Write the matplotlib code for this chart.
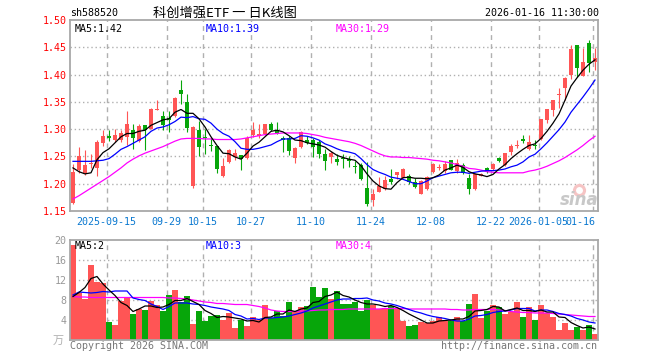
import matplotlib
matplotlib.use("Agg")
import matplotlib.pyplot as plt
import numpy as np

# ---- data (88 trading days, 2025-09-05 .. 2026-01-16) ----
opens = [1.165, 1.225, 1.219, 1.236, 1.228, 1.275, 1.287, 1.280, 1.280, 1.286,
         1.298, 1.279, 1.308, 1.301, 1.335, 1.324, 1.320, 1.324, 1.372, 1.350,
         1.196, 1.298, 1.286, 1.2705, 1.269, 1.215, 1.240, 1.249, 1.252, 1.248,
         1.290, 1.287, 1.292, 1.309, 1.298, 1.284, 1.284, 1.248, 1.268, 1.281,
         1.281, 1.276, 1.254, 1.249, 1.246, 1.248, 1.246, 1.2315, 1.234, 1.193,
         1.171, 1.185, 1.190, 1.209, 1.216, 1.211, 1.214, 1.204, 1.182, 1.190,
         1.221, 1.229, 1.223, 1.243, 1.223, 1.235, 1.211, 1.191, 1.215, 1.229,
         1.227, 1.248, 1.234, 1.258, 1.270, 1.282, 1.263, 1.2695, 1.282, 1.317,
         1.335, 1.362, 1.376, 1.400, 1.454, 1.398, 1.458, 1.423]
highs = [1.237, 1.267, 1.262, 1.254, 1.281, 1.298, 1.298, 1.300, 1.299, 1.334,
         1.309, 1.309, 1.308, 1.338, 1.353, 1.334, 1.334, 1.358, 1.390, 1.364,
         1.305, 1.315, 1.300, 1.284, 1.270, 1.248, 1.263, 1.264, 1.252, 1.287,
         1.313, 1.309, 1.309, 1.313, 1.313, 1.287, 1.287, 1.268, 1.296, 1.287,
         1.284, 1.280, 1.263, 1.260, 1.254, 1.254, 1.251, 1.242, 1.238, 1.240,
         1.191, 1.213, 1.214, 1.227, 1.221, 1.229, 1.217, 1.211, 1.206, 1.215,
         1.238, 1.237, 1.242, 1.243, 1.245, 1.238, 1.217, 1.220, 1.220, 1.231,
         1.238, 1.249, 1.257, 1.272, 1.280, 1.290, 1.290, 1.280, 1.319, 1.337,
         1.354, 1.375, 1.395, 1.455, 1.454, 1.449, 1.464, 1.449]
lows = [1.162, 1.219, 1.216, 1.228, 1.214, 1.269, 1.278, 1.276, 1.277, 1.271,
        1.263, 1.276, 1.262, 1.300, 1.335, 1.298, 1.295, 1.322, 1.346, 1.294,
        1.193, 1.251, 1.255, 1.260, 1.219, 1.213, 1.238, 1.243, 1.226, 1.246,
        1.286, 1.284, 1.290, 1.296, 1.292, 1.258, 1.252, 1.238, 1.266, 1.272,
        1.249, 1.248, 1.225, 1.238, 1.235, 1.229, 1.231, 1.220, 1.207, 1.159,
        1.160, 1.184, 1.188, 1.200, 1.209, 1.210, 1.199, 1.192, 1.181, 1.188,
        1.219, 1.226, 1.220, 1.225, 1.220, 1.217, 1.182, 1.188, 1.214, 1.220,
        1.225, 1.240, 1.232, 1.252, 1.266, 1.274, 1.262, 1.264, 1.281, 1.312,
        1.324, 1.339, 1.354, 1.392, 1.396, 1.397, 1.404, 1.409]
closes = [1.222, 1.250, 1.234, 1.238, 1.277, 1.287, 1.283, 1.289, 1.293, 1.310,
          1.283, 1.305, 1.298, 1.337, 1.337, 1.308, 1.316, 1.357, 1.364, 1.302,
          1.304, 1.268, 1.284, 1.270, 1.227, 1.232, 1.261, 1.257, 1.246, 1.284,
          1.299, 1.292, 1.309, 1.298, 1.293, 1.281, 1.260, 1.266, 1.295, 1.275,
          1.268, 1.254, 1.242, 1.257, 1.240, 1.245, 1.242, 1.231, 1.209, 1.162,
          1.182, 1.196, 1.206, 1.203, 1.221, 1.227, 1.204, 1.194, 1.205, 1.213,
          1.237, 1.231, 1.237, 1.226, 1.238, 1.220, 1.190, 1.217, 1.217, 1.223,
          1.237, 1.242, 1.256, 1.270, 1.271, 1.278, 1.277, 1.269, 1.318, 1.336,
          1.354, 1.363, 1.394, 1.447, 1.412, 1.423, 1.421, 1.431]

ma5 = [1.229, 1.222, 1.218, 1.220, 1.244, 1.257, 1.264, 1.275, 1.286, 1.292,
       1.292, 1.296, 1.298, 1.307, 1.312, 1.317, 1.319, 1.331, 1.336, 1.329,
       1.329, 1.319, 1.304, 1.286, 1.270, 1.256, 1.255, 1.249, 1.245, 1.256,
       1.269, 1.276, 1.286, 1.296, 1.298, 1.295, 1.288, 1.280, 1.279, 1.275,
       1.273, 1.271, 1.267, 1.259, 1.252, 1.248, 1.245, 1.243, 1.233, 1.218,
       1.205, 1.196, 1.191, 1.190, 1.202, 1.211, 1.212, 1.210, 1.210, 1.209,
       1.211, 1.216, 1.225, 1.229, 1.234, 1.230, 1.222, 1.218, 1.216, 1.213,
       1.217, 1.227, 1.235, 1.246, 1.255, 1.263, 1.270, 1.273, 1.283, 1.296,
       1.311, 1.328, 1.353, 1.379, 1.394, 1.408, 1.419, 1.427]
ma10 = [1.241, 1.241, 1.241, 1.241, 1.242, 1.243, 1.246, 1.254, 1.263, 1.268,
        1.274, 1.280, 1.286, 1.296, 1.302, 1.304, 1.308, 1.314, 1.322, 1.321,
        1.323, 1.319, 1.318, 1.311, 1.300, 1.292, 1.287, 1.277, 1.265, 1.263,
        1.263, 1.265, 1.268, 1.271, 1.277, 1.282, 1.282, 1.283, 1.288, 1.287,
        1.284, 1.280, 1.273, 1.269, 1.264, 1.260, 1.258, 1.255, 1.246, 1.235,
        1.226, 1.221, 1.217, 1.212, 1.210, 1.208, 1.204, 1.200, 1.200, 1.205,
        1.211, 1.214, 1.217, 1.220, 1.221, 1.221, 1.219, 1.221, 1.223, 1.224,
        1.224, 1.225, 1.227, 1.231, 1.234, 1.240, 1.249, 1.254, 1.264, 1.275,
        1.287, 1.299, 1.313, 1.331, 1.345, 1.359, 1.374, 1.390]
ma30 = [1.172, 1.178, 1.185, 1.192, 1.199, 1.206, 1.213, 1.221, 1.229, 1.238,
        1.245, 1.251, 1.256, 1.260, 1.264, 1.268, 1.273, 1.278, 1.282, 1.283,
        1.283, 1.283, 1.282, 1.282, 1.281, 1.281, 1.281, 1.281, 1.282, 1.284,
        1.286, 1.288, 1.290, 1.291, 1.292, 1.293, 1.293, 1.293, 1.293, 1.292,
        1.290, 1.288, 1.285, 1.283, 1.281, 1.279, 1.277, 1.274, 1.270, 1.265,
        1.260, 1.255, 1.251, 1.249, 1.249, 1.248, 1.248, 1.247, 1.246, 1.245,
        1.243, 1.242, 1.240, 1.238, 1.235, 1.232, 1.228, 1.227, 1.225, 1.222,
        1.221, 1.220, 1.220, 1.220, 1.220, 1.220, 1.223, 1.225, 1.228, 1.232,
        1.237, 1.242, 1.248, 1.255, 1.262, 1.270, 1.279, 1.287]

# volume in 10k (万)
volume = [19.0, 9.5, 8.3, 15.0, 11.6, 11.4, 3.7, 3.0, 7.9, 8.5,
          5.3, 6.3, 6.0, 7.9, 7.0, 5.8, 9.0, 10.0, 7.7, 8.8,
          3.2, 5.8, 3.9, 4.8, 5.0, 4.0, 5.5, 2.5, 4.0, 2.9,
          4.7, 4.0, 7.0, 4.5, 5.8, 4.8, 7.7, 5.8, 6.7, 6.8,
          10.7, 8.6, 10.5, 8.2, 9.8, 7.2, 7.2, 7.6, 5.9, 8.0,
          7.1, 6.2, 6.4, 6.8, 6.2, 3.9, 2.9, 3.1, 3.7, 3.5,
          3.9, 4.6, 3.9, 3.9, 4.6, 3.9, 7.2, 9.2, 4.4, 5.8,
          7.1, 6.6, 5.2, 5.6, 7.6, 4.6, 6.6, 4.0, 7.1, 5.5,
          4.6, 2.0, 3.5, 2.0, 2.6, 2.0, 3.0, 1.3]
vma5 = [8.7, 9.5, 10.5, 12.3, 12.7, 11.2, 10.0, 8.9, 7.5, 6.9,
        5.7, 6.2, 6.8, 6.8, 6.5, 6.6, 7.1, 7.9, 7.9, 8.3,
        7.7, 7.1, 5.9, 5.3, 4.5, 4.7, 4.6, 4.4, 4.2, 3.8,
        3.9, 3.6, 4.5, 4.6, 5.2, 5.2, 6.0, 5.7, 6.2, 6.4,
        7.5, 7.7, 8.7, 9.0, 9.6, 8.9, 8.6, 8.0, 7.5, 7.2,
        7.2, 7.0, 6.7, 6.9, 6.5, 5.9, 5.2, 4.6, 4.0, 3.4,
        3.4, 3.8, 3.9, 4.0, 4.2, 4.2, 4.7, 5.8, 5.9, 6.1,
        6.7, 6.6, 5.8, 6.1, 6.4, 5.9, 5.9, 5.7, 6.0, 5.6,
        5.6, 4.6, 4.5, 3.5, 2.9, 2.4, 2.6, 2.2]
vma10 = [9.0, 9.6, 9.5, 9.4, 9.5, 9.7, 9.6, 9.8, 9.8, 9.8,
         8.4, 8.1, 7.9, 7.2, 6.7, 6.1, 6.7, 7.4, 7.4, 7.4,
         7.2, 7.1, 6.9, 6.6, 6.4, 6.2, 5.9, 5.1, 4.8, 4.2,
         4.3, 4.1, 4.4, 4.4, 4.5, 4.6, 4.8, 5.1, 5.4, 5.8,
         6.4, 6.8, 7.2, 7.6, 8.0, 8.2, 8.2, 8.3, 8.3, 8.4,
         8.0, 7.8, 7.4, 7.2, 6.9, 6.5, 6.1, 5.7, 5.4, 5.0,
         4.7, 4.5, 4.3, 4.0, 3.8, 3.8, 4.2, 4.8, 4.9, 5.1,
         5.5, 5.7, 5.8, 6.0, 6.3, 6.3, 6.3, 5.8, 6.0, 6.0,
         5.7, 5.3, 5.1, 4.8, 4.3, 4.0, 3.6, 3.4]
vma30 = [8.7, 8.6, 8.6, 8.5, 8.5, 8.5, 8.5, 8.5, 8.5, 8.5,
         8.5, 8.5, 8.5, 8.5, 8.5, 8.5, 8.4, 8.4, 8.3, 8.2,
         8.0, 7.8, 7.6, 7.5, 7.3, 7.3, 7.2, 7.1, 7.1, 7.1,
         6.9, 6.7, 6.4, 6.0, 5.8, 5.7, 5.7, 5.7, 5.8, 5.8,
         5.9, 6.0, 6.0, 6.1, 6.1, 6.1, 6.2, 6.2, 6.2, 6.2,
         6.2, 6.2, 6.3, 6.3, 6.3, 6.3, 6.2, 6.2, 6.2, 6.2,
         6.2, 6.2, 6.2, 6.1, 6.1, 6.0, 6.0, 6.1, 6.1, 6.1,
         6.1, 6.0, 5.9, 5.7, 5.6, 5.5, 5.5, 5.4, 5.4, 5.4,
         5.3, 5.2, 5.1, 5.0, 4.9, 4.8, 4.7, 4.7]

tick_idx = [6, 16, 22, 30, 40, 50, 60, 70, 78, 87]
tick_labels = ["2025-09-15", "09-29", "10-15", "10-27", "11-10", "11-24",
               "12-08", "12-22", "2026-01-05", "01-16"]
price_levels = [1.15, 1.20, 1.25, 1.30, 1.35, 1.40, 1.45, 1.50]
vol_levels = [4, 8, 12, 16, 20]

RED = "#ff5555"
GREEN = "#07a60a"
FRAME = "#a8a8a8"
GRID = "#b0b0b0"
XLAB = "#0a78d0"
MONO = "DejaVu Sans Mono"
CJK = ["Noto Sans CJK SC", "DejaVu Sans"]

W, H = 660, 360
fig = plt.figure(figsize=(W / 100, H / 100), dpi=100)
fig.patch.set_facecolor("white")


def px_axes(x0, y0, x1, y1):
    return fig.add_axes([x0 / W, 1 - y1 / H, (x1 - x0) / W, (y1 - y0) / H])


ax1 = px_axes(70, 20, 598, 211)
ax2 = px_axes(70, 240, 598, 340)
n = len(closes)
x = np.arange(n)
grid_x = np.array(tick_idx) - 0.4

for ax in (ax1, ax2):
    ax.set_xlim(-0.5, n - 0.5)
    for s in ax.spines.values():
        s.set_color(FRAME)
        s.set_linewidth(1.3)
    ax.tick_params(length=0)
    for gx in grid_x:
        ax.axvline(gx, color=GRID, lw=1.0, dashes=(3.5, 3), zorder=0)

# ---- price panel ----
ax1.set_ylim(1.15, 1.50)
for lv in price_levels[1:-1]:
    ax1.axhline(lv, color=GRID, lw=1.0, linestyle=(0, (1, 2)), zorder=0)

colors = [RED if c >= o else GREEN for o, c in zip(opens, closes)]
o = np.array(opens)
c = np.array(closes)
body_lo = np.minimum(o, c)
body_h = np.maximum(np.abs(c - o), 0.0018)

# sina watermark (behind the candles)
ax1.scatter([84.3], [1.188], s=90, color="#f6c4c4", zorder=1, linewidths=0)
ax1.scatter([84.3], [1.188], s=25, color="white", zorder=1, linewidths=0)
ax1.text(84.3, 1.170, "sina", color="#c8c8c8", fontsize=12,
         fontweight="bold", style="italic", ha="center", va="center",
         zorder=1)

ax1.vlines(x, lows, highs, colors=colors, lw=0.8, zorder=2)
ax1.bar(x, body_h, bottom=body_lo, width=0.7, color=colors, zorder=3)

ax1.plot(x, ma30, color="#ff00ff", lw=0.9, zorder=4)
ax1.plot(x, ma10, color="#0000ff", lw=0.9, zorder=4)
ax1.plot(x, ma5, color="black", lw=0.9, zorder=4)

ax1.set_yticks(price_levels)
ax1.set_yticklabels([f"{v:.2f}" for v in price_levels], color="red",
                    fontsize=7.2, family=MONO)
ax1.tick_params(axis="y", pad=2.5)
ax1.set_xticks(grid_x)
ax1.set_xticklabels([])
for i, lab in zip(tick_idx, tick_labels):
    if i == n - 1:
        ax1.text(n - 1.0, 1.15 - 0.020, lab, ha="right", va="center",
                 color=XLAB, fontsize=7.2, family=MONO, clip_on=False)
    else:
        ax1.text(i - 0.4, 1.15 - 0.020, lab, ha="center", va="center",
                 color=XLAB, fontsize=7.2, family=MONO, clip_on=False)

ax1.text(0.009, 0.955, "MA5:1.42", transform=ax1.transAxes, color="black",
         fontsize=7.2, family=MONO, va="center")
ax1.text(0.257, 0.955, "MA10:1.39", transform=ax1.transAxes, color="#0000ff",
         fontsize=7.2, family=MONO, va="center")
ax1.text(0.504, 0.955, "MA30:1.29", transform=ax1.transAxes, color="#ff00ff",
         fontsize=7.2, family=MONO, va="center")

# ---- volume panel ----
ax2.set_ylim(0, 20)
for lv in vol_levels[:-1]:
    ax2.axhline(lv, color=GRID, lw=1.0, linestyle=(0, (1, 2)), zorder=0)
ax2.bar(x, volume, width=0.84, color=colors, zorder=2)
ax2.plot(x, vma30, color="#ff00ff", lw=0.9, zorder=4)
ax2.plot(x, vma10, color="#0000ff", lw=0.9, zorder=4)
ax2.plot(x, vma5, color="black", lw=0.9, zorder=4)
ax2.set_yticks(vol_levels)
ax2.set_yticklabels([str(v) for v in vol_levels], color="#999999",
                    fontsize=7.2, family=MONO)
ax2.tick_params(axis="y", pad=2.5)
ax2.set_xticks([])

ax2.text(0.009, 0.94, "MA5:2", transform=ax2.transAxes, color="black",
         fontsize=7.2, family=MONO, va="center")
ax2.text(0.257, 0.94, "MA10:3", transform=ax2.transAxes, color="#0000ff",
         fontsize=7.2, family=MONO, va="center")
ax2.text(0.504, 0.94, "MA30:4", transform=ax2.transAxes, color="#ff00ff",
         fontsize=7.2, family=MONO, va="center")

# ---- header / footer text ----
fig.text(70 / W, 1 - 13 / H, "sh588520", fontsize=7.2, family=MONO,
         va="center", ha="left")
fig.text(225 / W, 1 - 13 / H, "科创增强ETF 一 日K线图", fontsize=9.5,
         family=CJK, va="center", ha="center")
fig.text(599 / W, 1 - 13 / H, "2026-01-16 11:30:00", fontsize=7.2,
         family=MONO, va="center", ha="right")
fig.text(64 / W, 1 - 341 / H, "万", fontsize=8, family=CJK, color="#b0b0b0",
         va="center", ha="right")
fig.text(70 / W, 1 - 346 / H, "Copyright 2026 SINA.COM", fontsize=7.2,
         family=MONO, color="#777777", va="center", ha="left")
fig.text(597 / W, 1 - 346 / H, "http://finance.sina.com.cn", fontsize=7.2,
         family=MONO, color="#777777", va="center", ha="right")

fig.savefig("out.png", dpi=100)
